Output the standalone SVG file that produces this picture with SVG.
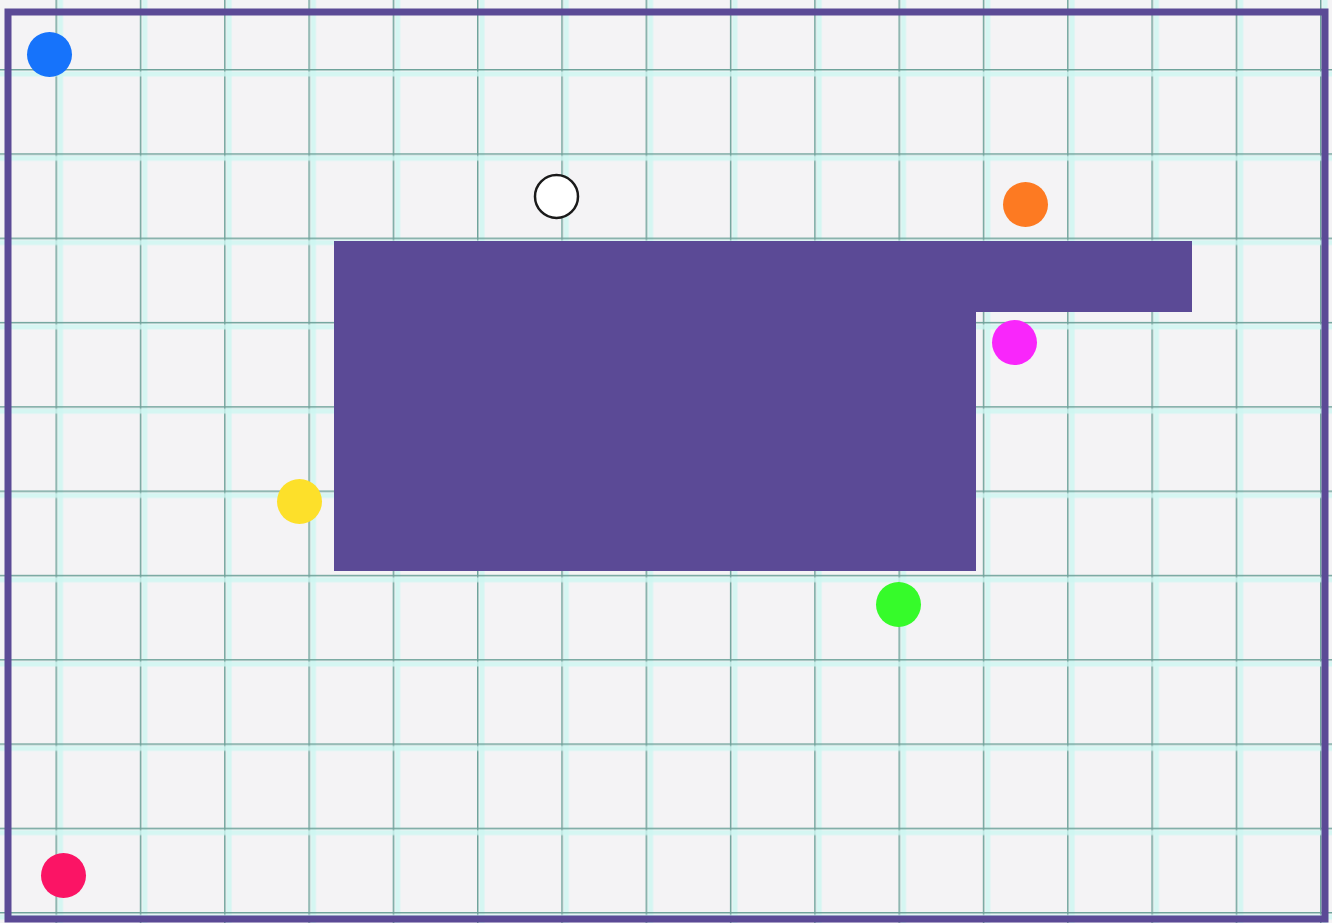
<svg xmlns="http://www.w3.org/2000/svg" width="1332" height="923" viewBox="0 0 1332 923">
  <defs>
    <style>
      .glow { stroke: #cdf6f1; stroke-width: 5; fill: none; opacity: 0.8; }
      .grid { stroke: #6fa39b; stroke-width: 3; fill: none; }
      .dot { stroke: none; }
    </style>
    <pattern id="gv" x="55.5" y="0" width="84.3" height="923" patternUnits="userSpaceOnUse">
      <line class="glow" x1="5" y1="0" x2="5" y2="923"/>
      <line class="grid" x1="0" y1="0" x2="0" y2="923"/>
    </pattern>
    <pattern id="gh" x="0" y="69" width="1332" height="84.3" patternUnits="userSpaceOnUse">
      <line class="glow" x1="0" y1="5" x2="1332" y2="5"/>
      <line class="grid" x1="0" y1="0" x2="1332" y2="0"/>
    </pattern>
  </defs>
  <g id="paper">
    <rect x="0" y="0" width="1332" height="923" fill="#f4f3f5"/>
    <rect x="0" y="0" width="1332" height="923" fill="url(#gv)"/>
    <rect x="0" y="0" width="1332" height="923" fill="url(#gh)"/>
  </g>
  <g id="frame">
    <rect x="8" y="12" width="1317" height="907" fill="none" stroke="#5b4a96" stroke-width="7"/>
  </g>
  <g id="block">
    <path d="M334 241 H1192 V312 H976 V571 H334 Z" fill="#5b4a96"/>
  </g>
  <g id="dot-blue"><circle class="dot" cx="49.5" cy="54.5" r="22.5" fill="#1673fb"/></g>
  <g id="dot-white"><circle cx="556.5" cy="196.5" r="21.5" fill="#ffffff" stroke="#1a1a1a" stroke-width="2.5"/></g>
  <g id="dot-orange"><circle class="dot" cx="1025.5" cy="204.5" r="22.5" fill="#fd7a22"/></g>
  <g id="dot-magenta"><circle class="dot" cx="1014.5" cy="342.5" r="22.5" fill="#f926fb"/></g>
  <g id="dot-yellow"><circle class="dot" cx="299.5" cy="501.5" r="22.5" fill="#fde02a"/></g>
  <g id="dot-green"><circle class="dot" cx="898.5" cy="604.5" r="22.5" fill="#36fb2a"/></g>
  <g id="dot-red"><circle class="dot" cx="63.5" cy="875.5" r="22.5" fill="#fb1465"/></g>
</svg>
